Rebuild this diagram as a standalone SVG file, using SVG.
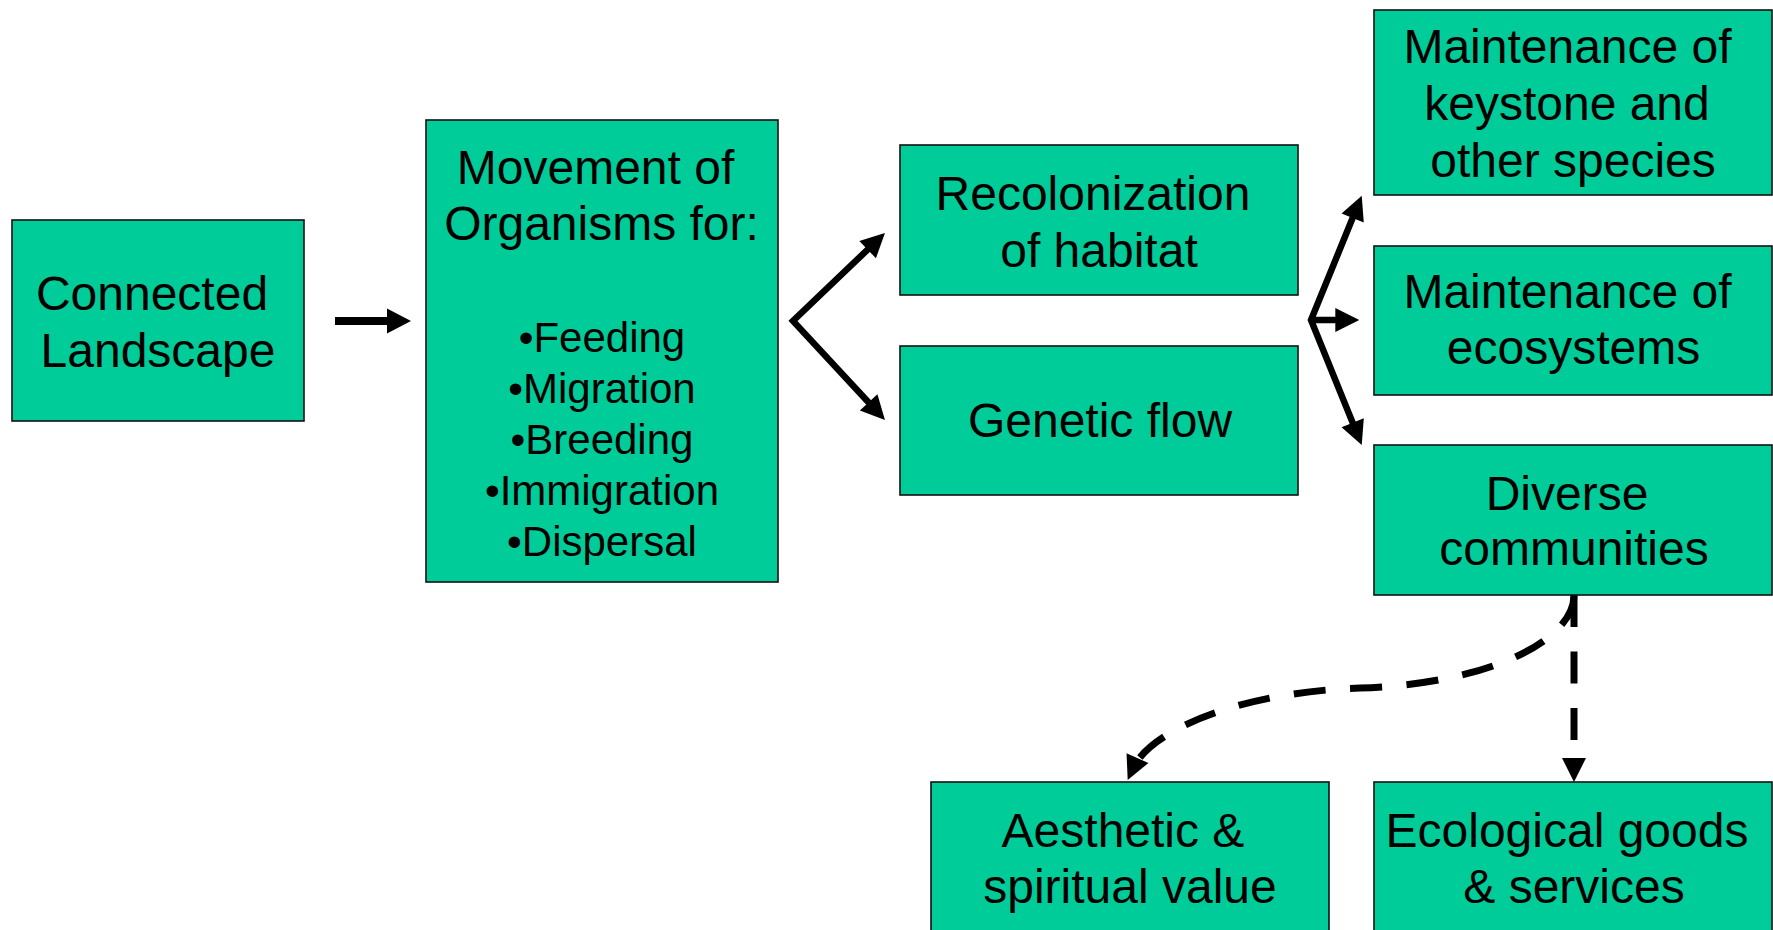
<svg xmlns="http://www.w3.org/2000/svg" width="1773" height="930" viewBox="0 0 1773 930">
<style>
.box{fill:#00CC99;stroke:#111;stroke-width:1.6}
text{font-family:"Liberation Sans",Arial,sans-serif;font-size:48px;fill:#000;text-anchor:middle}
.b{font-size:42px}
.con{fill:none;stroke:#000;stroke-linejoin:miter}
.solid{stroke-width:6.5}
.dash{stroke-width:7;stroke-dasharray:32 24.5}
</style>
<defs>
<marker id="ah" markerUnits="userSpaceOnUse" markerWidth="24" markerHeight="24" refX="12" refY="12" orient="auto-start-reverse" overflow="visible">
<path d="M0,0 L24,12 L0,24 z" fill="#000"/>
</marker>
<marker id="ah1" markerUnits="userSpaceOnUse" markerWidth="24" markerHeight="25" refX="12" refY="12.5" orient="auto" overflow="visible">
<path d="M0,0 L24,12.5 L0,25 z" fill="#000"/>
</marker>
</defs>
<rect width="1773" height="930" fill="#fff"/>
<g id="connectors">
<line class="con" x1="335" y1="321" x2="399" y2="321" stroke-width="8" marker-end="url(#ah1)"/>
<path class="con solid" d="M876.3,241.3 L793,321 L876.8,411.2" marker-start="url(#ah)" marker-end="url(#ah)"/>
<path class="con solid" d="M1357.2,206.8 L1311,320 L1357.2,433.9" marker-start="url(#ah)" marker-end="url(#ah)"/>
<line class="con solid" x1="1311" y1="320" x2="1347.3" y2="320" marker-end="url(#ah)"/>
<line class="con dash" x1="1574" y1="595" x2="1574" y2="770" marker-end="url(#ah)"/>
<path class="con dash" d="M1574,596 C1573,640 1490,684 1360,688 C1240,692 1150,730 1132.6,769" marker-end="url(#ah)"/>
</g>
<g id="connected-landscape">
<rect class="box" x="12" y="220" width="292" height="201"/>
<text x="152" y="310">Connected</text>
<text x="158" y="367">Landscape</text>
</g>
<g id="movement">
<rect class="box" x="426" y="120" width="352" height="462"/>
<text x="595.5" y="184">Movement of</text>
<text x="601.5" y="240">Organisms for:</text>
<text class="b" x="602" y="352">•Feeding</text>
<text class="b" x="602" y="403">•Migration</text>
<text class="b" x="602" y="454">•Breeding</text>
<text class="b" x="602" y="505">•Immigration</text>
<text class="b" x="602" y="556">•Dispersal</text>
</g>
<g id="recolonization">
<rect class="box" x="900" y="145" width="398" height="150"/>
<text x="1093" y="210">Recolonization</text>
<text x="1099" y="267">of habitat</text>
</g>
<g id="genetic-flow">
<rect class="box" x="900" y="346" width="398" height="149"/>
<text x="1100" y="437">Genetic flow</text>
</g>
<g id="keystone">
<rect class="box" x="1374" y="10" width="398" height="185"/>
<text x="1567.5" y="63">Maintenance of</text>
<text x="1567" y="120">keystone and</text>
<text x="1573" y="177">other species</text>
</g>
<g id="ecosystems">
<rect class="box" x="1374" y="246" width="398" height="149"/>
<text x="1567.5" y="308">Maintenance of</text>
<text x="1573.5" y="364">ecosystems</text>
</g>
<g id="diverse">
<rect class="box" x="1374" y="445" width="398" height="150"/>
<text x="1567" y="510">Diverse</text>
<text x="1574" y="565">communities</text>
</g>
<g id="aesthetic">
<rect class="box" x="931" y="782" width="398" height="170"/>
<text x="1123" y="847">Aesthetic &amp;</text>
<text x="1130" y="903">spiritual value</text>
</g>
<g id="ecological">
<rect class="box" x="1374" y="782" width="398" height="170"/>
<text x="1567" y="847">Ecological goods</text>
<text x="1574" y="903">&amp; services</text>
</g>
</svg>
